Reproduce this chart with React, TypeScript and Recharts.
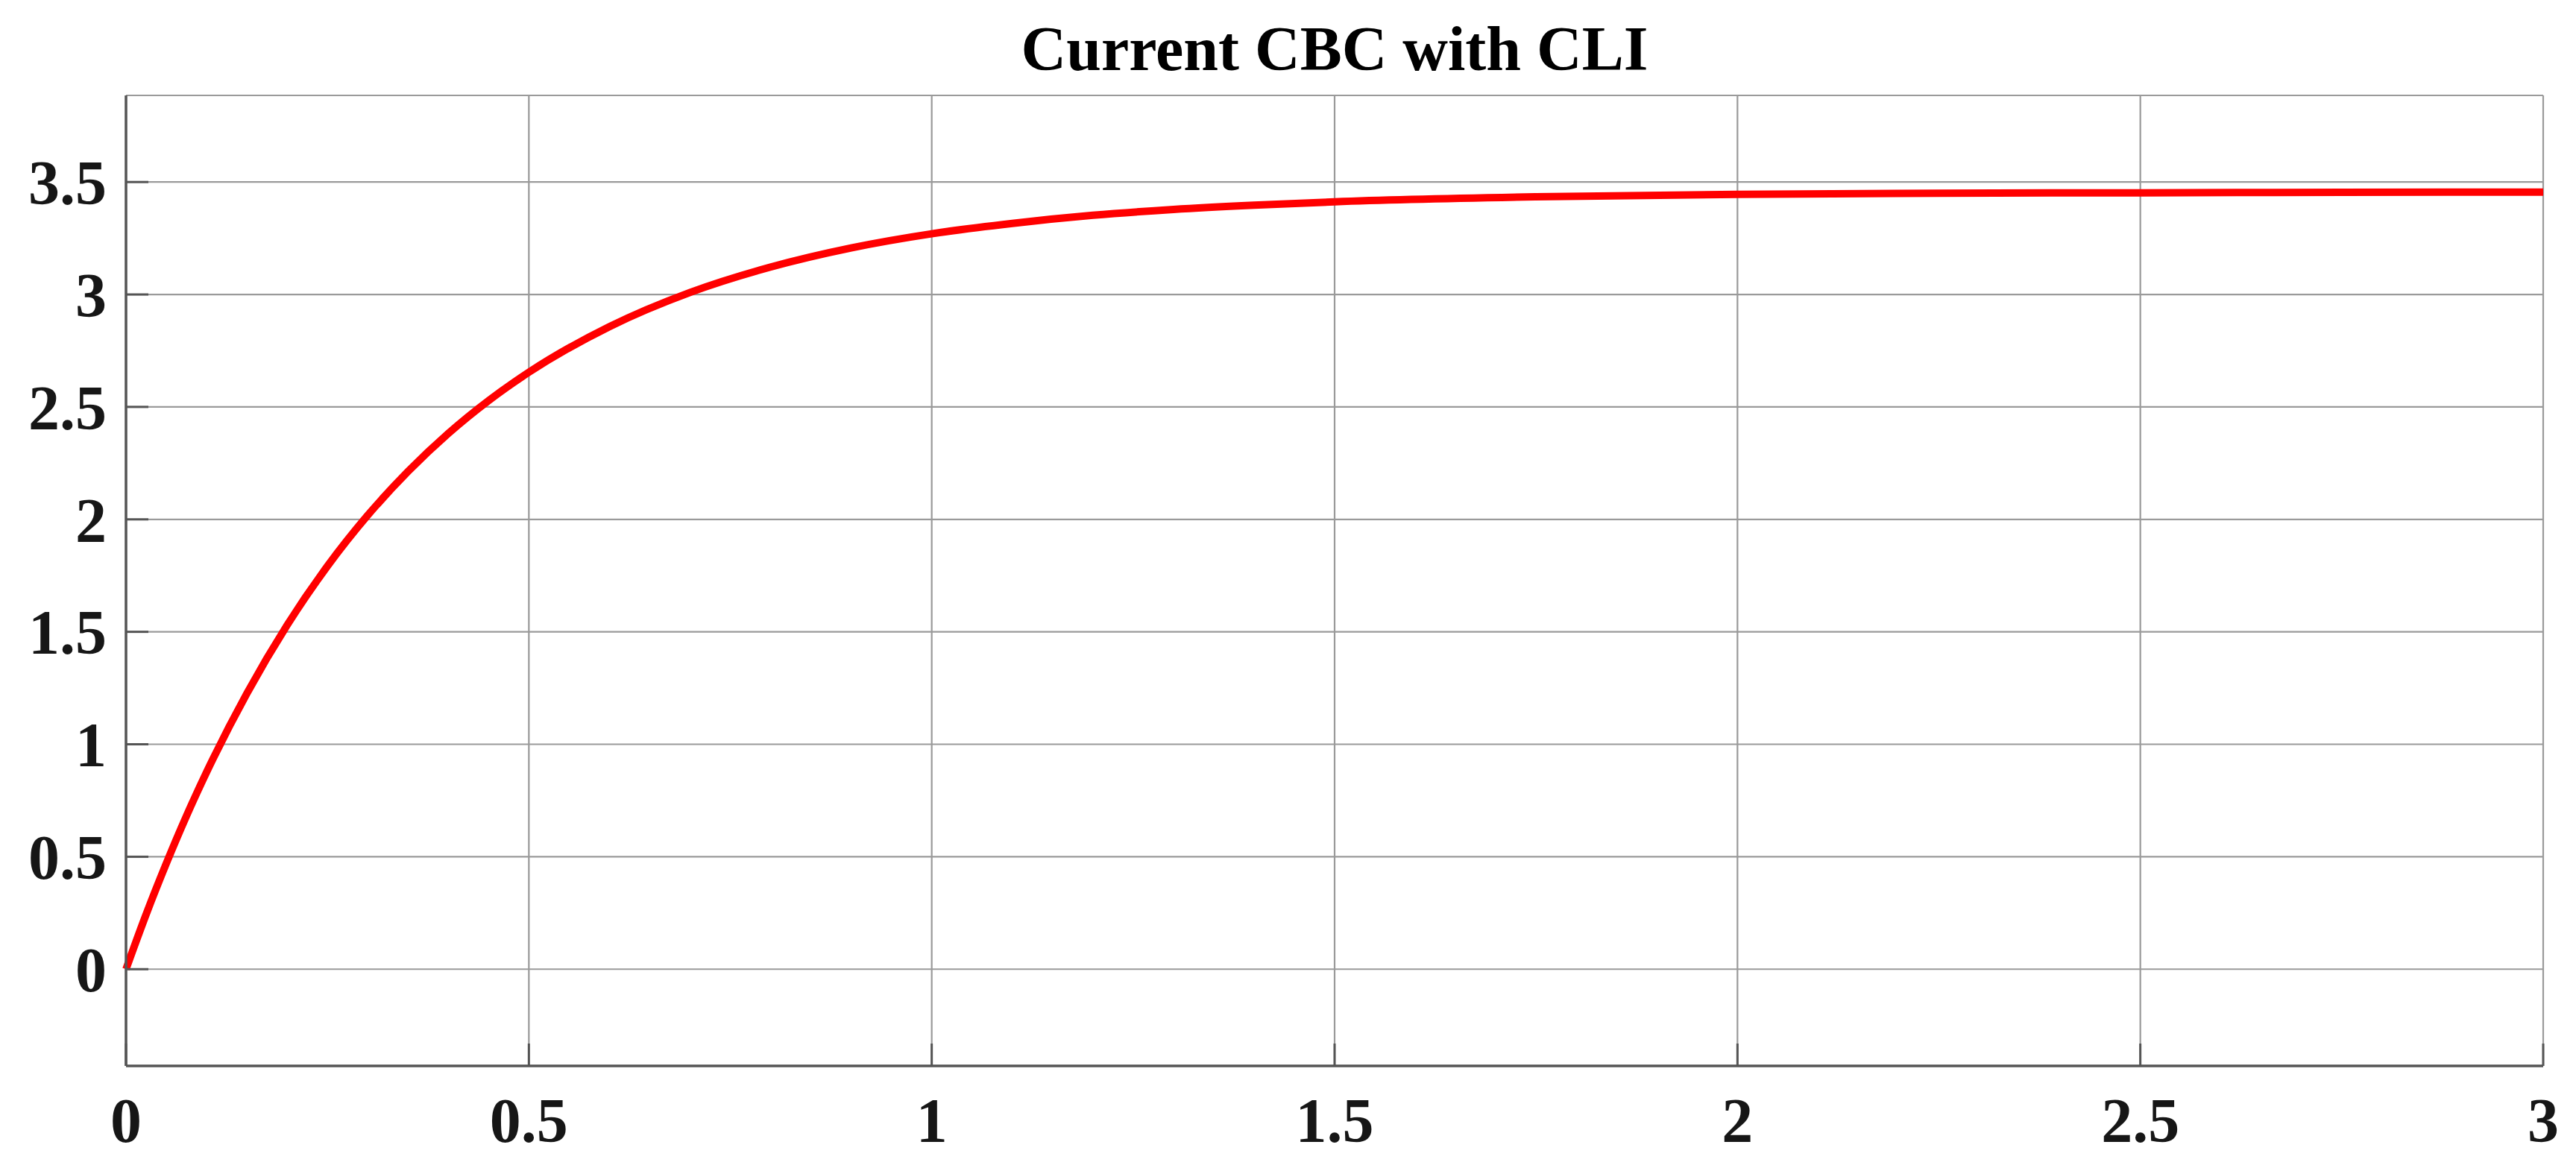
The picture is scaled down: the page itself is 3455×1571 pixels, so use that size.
import { CartesianGrid, Line, LineChart, XAxis, YAxis } from 'recharts';

// time (s) and current
const timeValues = [
  0, 0.025, 0.05, 0.075, 0.1, 0.15, 0.2, 0.25, 0.3, 0.35, 0.4, 0.45, 0.5, 0.6, 0.7, 0.8, 0.9, 1.0,
  1.1, 1.2, 1.3, 1.4, 1.5, 1.75, 2.0, 2.25, 2.5, 2.75, 3.0,
];
const currentValues = [
  0, 0.244, 0.47, 0.681, 0.876, 1.226, 1.53, 1.792, 2.018, 2.213, 2.382, 2.528, 2.654, 2.857, 3.009,
  3.122, 3.207, 3.27, 3.316, 3.352, 3.378, 3.397, 3.412, 3.434, 3.445, 3.45, 3.452, 3.454, 3.455,
];

const xTicks = [0, 0.5, 1, 1.5, 2, 2.5, 3];
const yTicks = [0, 0.5, 1, 1.5, 2, 2.5, 3, 3.5];

const chartTitle = 'Current CBC with CLI';

const data = timeValues.map((t, i) => ({ t, current: currentValues[i] }));

const W = 3455;
const H = 1571;
const font = '"Liberation Serif", "Times New Roman", serif';
const axisColor = '#555555';
const tickStyle = { fontFamily: font, fontWeight: 700, fontSize: 84, fill: '#161616' };

export default function App() {
  return (
    <div style={{ position: 'absolute', left: 0, top: 0, width: W, height: H, background: '#fff' }}>
      <LineChart width={W} height={H} data={data} margin={{ top: 128, right: 44, bottom: 0, left: 0 }}>
        <CartesianGrid stroke="#9a9a9a" strokeWidth={2.2} />
        <XAxis
          dataKey="t"
          type="number"
          domain={[0, 3]}
          ticks={xTicks}
          interval={0}
          height={141}
          tickSize={-30}
          tickMargin={72}
          tick={tickStyle}
          axisLine={{ stroke: axisColor, strokeWidth: 3.5 }}
          tickLine={{ stroke: axisColor, strokeWidth: 3 }}
        />
        <XAxis
          xAxisId="top"
          orientation="top"
          dataKey="t"
          type="number"
          domain={[0, 3]}
          ticks={xTicks}
          interval={0}
          height={0}
          tickSize={-30}
          tick={false}
          axisLine={{ stroke: axisColor, strokeWidth: 3.5 }}
          tickLine={{ stroke: axisColor, strokeWidth: 3 }}
        />
        <YAxis
          type="number"
          domain={[-0.43, 3.885]}
          ticks={yTicks}
          interval={0}
          width={169}
          tickSize={-30}
          tickMargin={56}
          tick={tickStyle}
          axisLine={{ stroke: axisColor, strokeWidth: 3.5 }}
          tickLine={{ stroke: axisColor, strokeWidth: 3 }}
        />
        <YAxis
          yAxisId="right"
          orientation="right"
          type="number"
          domain={[-0.43, 3.885]}
          ticks={yTicks}
          interval={0}
          width={0}
          tickSize={-30}
          tick={false}
          axisLine={{ stroke: axisColor, strokeWidth: 3.5 }}
          tickLine={{ stroke: axisColor, strokeWidth: 3 }}
        />
        <Line
          type="monotone"
          dataKey="current"
          stroke="#ff0000"
          strokeWidth={10}
          dot={false}
          isAnimationActive={false}
        />
      </LineChart>
      <svg width={W} height={H} style={{ position: 'absolute', left: 0, top: 0, pointerEvents: 'none' }}>
        <text x={1790} y={94} textAnchor="middle" fontFamily={font} fontWeight={700} fontSize={84} fill="#000">
          {chartTitle}
        </text>
      </svg>
    </div>
  );
}
